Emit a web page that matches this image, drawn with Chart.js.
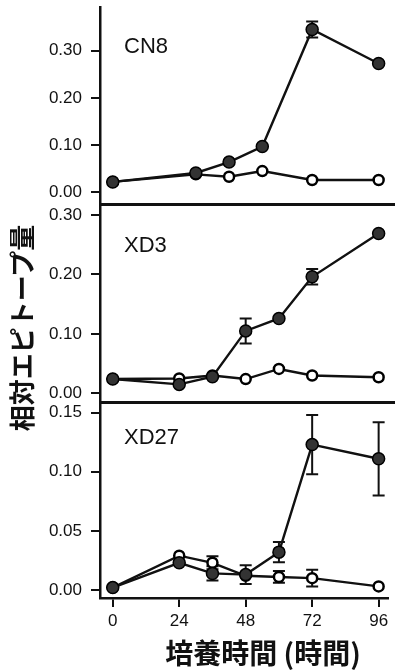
<!DOCTYPE html>
<html>
<head>
<meta charset="utf-8">
<script src="https://cdn.jsdelivr.net/npm/chart.js@4.4.1/dist/chart.umd.min.js"></script>
<style>
  body { margin: 0; background: #fff; width: 395px; height: 670px; overflow: hidden; position: relative; }
  canvas { position: absolute; left: 0; }
  .panel-label { position: absolute; left: 124px; font: 22px "Liberation Sans", Arial, sans-serif; line-height: 1; color: #111; }
  #y-title { position: absolute; left: -133px; top: 313px; width: 300px; height: 30px; line-height: 30px; text-align: center;
    font: bold 26px "Noto Sans CJK JP", sans-serif; color: #111; transform: rotate(-90deg); white-space: nowrap; }
  #x-title { position: absolute; left: 113px; top: 632px; width: 300px; text-align: center; line-height: 1;
    font: bold 28px "Noto Sans CJK JP", sans-serif; color: #111; white-space: nowrap; }
</style>
</head>
<body>
<canvas id="cn8" width="395" height="222" style="top:-5px"></canvas>
<canvas id="xd3" width="395" height="222" style="top:192px"></canvas>
<canvas id="xd27" width="395" height="279" style="top:391px"></canvas>
<div class="panel-label" style="top:35px">CN8</div>
<div class="panel-label" style="top:234px">XD3</div>
<div class="panel-label" style="top:426px">XD27</div>
<div id="y-title">相対エピトープ量</div>
<div id="x-title">培養時間 (時間)</div>
<script>
// culture time (h)
const times = [0, 24, 36, 48, 60, 72, 96];
const cn8Times = [0, 30, 42, 54, 72, 96];
const xTicks = [0, 24, 48, 72, 96];

// CN8
const cn8Filled = [0.022, 0.041, 0.064, 0.097, 0.345, 0.273];
const cn8FilledErr = [0, 0, 0, 0, 0.017, 0];
const cn8Open = [0.022, 0.038, 0.033, 0.045, 0.026, 0.026];
const cn8OpenErr = [0, 0, 0, 0, 0, 0];
const cn8Ticks = [0, 0.1, 0.2, 0.3];

// XD3
const xd3Filled = [0.024, 0.015, 0.028, 0.105, 0.126, 0.196, 0.269];
const xd3FilledErr = [0, 0, 0, 0.021, 0, 0.013, 0];
const xd3Open = [0.024, 0.025, 0.030, 0.024, 0.041, 0.030, 0.027];
const xd3OpenErr = [0, 0, 0, 0, 0, 0, 0];
const xd3Ticks = [0, 0.1, 0.2, 0.3];

// XD27
const xd27Filled = [0.002, 0.023, 0.014, 0.013, 0.032, 0.123, 0.111];
const xd27FilledErr = [0, 0, 0.006, 0.008, 0.0085, 0.025, 0.031];
const xd27Open = [0.002, 0.029, 0.023, 0.012, 0.011, 0.010, 0.003];
const xd27OpenErr = [0, 0, 0.0055, 0, 0.005, 0.007, 0];
const xd27Ticks = [0, 0.05, 0.1, 0.15];

const ink = '#111';
const tickFont = { family: '"Liberation Sans", Arial, sans-serif', size: 17 };

const errorBars = {
  id: 'errorBars',
  beforeDatasetsDraw(chart) {
    const ctx = chart.ctx;
    const y = chart.scales.y;
    ctx.save();
    ctx.strokeStyle = ink;
    ctx.lineWidth = 2;
    chart.data.datasets.forEach((ds, i) => {
      const meta = chart.getDatasetMeta(i);
      meta.data.forEach((pt, j) => {
        const e = ds.errors[j];
        if (!e) return;
        const v = ds.data[j].y;
        const top = y.getPixelForValue(v + e);
        const bot = y.getPixelForValue(v - e);
        ctx.beginPath();
        ctx.moveTo(pt.x, top); ctx.lineTo(pt.x, bot);
        ctx.moveTo(pt.x - 6, top); ctx.lineTo(pt.x + 6, top);
        ctx.moveTo(pt.x - 6, bot); ctx.lineTo(pt.x + 6, bot);
        ctx.stroke();
      });
    });
    ctx.restore();
  }
};

const frame = {
  id: 'frame',
  afterDraw(chart, args, opts) {
    const a = chart.chartArea;
    const ctx = chart.ctx;
    ctx.save();
    ctx.strokeStyle = ink;
    ctx.lineWidth = 2;
    ctx.beginPath();
    if (opts.top) { ctx.moveTo(a.left, a.top); ctx.lineTo(chart.width, a.top); }
    if (opts.bottom) { ctx.moveTo(a.left, a.bottom); ctx.lineTo(chart.width, a.bottom); }
    ctx.stroke();
    ctx.restore();
  }
};

function makePanel(id, t, filled, filledErr, open, openErr, yMin, yMax, yTicks, showX, frameOpts, padBottom) {
  return new Chart(document.getElementById(id), {
    type: 'line',
    data: {
      datasets: [{
        data: t.map((x, i) => ({ x: x, y: filled[i] })),
        errors: filledErr,
        borderColor: ink,
        borderWidth: 2.4,
        pointRadius: 6,
        pointBorderWidth: 1.5,
        pointBackgroundColor: '#333',
        pointBorderColor: '#000'
      }, {
        data: t.map((x, i) => ({ x: x, y: open[i] })),
        errors: openErr,
        borderColor: ink,
        borderWidth: 2.4,
        pointRadius: 5,
        pointBorderWidth: 2.5,
        pointBackgroundColor: '#fff',
        pointBorderColor: '#000'
      }]
    },
    plugins: [errorBars, frame],
    options: {
      responsive: false,
      animation: false,
      devicePixelRatio: 1,
      layout: { padding: { top: 12, bottom: padBottom, left: 0, right: 0 } },
      plugins: { legend: { display: false }, tooltip: { enabled: false }, frame: frameOpts },
      scales: {
        x: {
          type: 'linear',
          min: -4.6,
          max: 99.2,
          display: showX,
          afterBuildTicks: s => { s.ticks = xTicks.map(v => ({ value: v })); },
          afterFit: s => { if (showX) { s.height = 72; s.paddingLeft = 0; s.paddingRight = 0; } },
          grid: { drawOnChartArea: false, drawTicks: true, tickLength: 9, color: ink, lineWidth: 2 },
          border: { display: true, color: ink, width: 2.5 },
          ticks: { color: ink, font: tickFont, padding: 4, maxRotation: 0 }
        },
        y: {
          min: yMin,
          max: yMax,
          afterBuildTicks: s => { s.ticks = yTicks.map(v => ({ value: v })); },
          afterFit: s => { s.width = 100; s.paddingTop = 0; s.paddingBottom = 0; },
          grid: { drawOnChartArea: false, drawTicks: true, tickLength: 9, color: ink, lineWidth: 2 },
          border: { display: true, color: ink, width: 2.5 },
          ticks: { color: ink, font: tickFont, padding: 9, callback: v => v.toFixed(2) }
        }
      }
    }
  });
}

makePanel('cn8', cn8Times, cn8Filled, cn8FilledErr, cn8Open, cn8OpenErr, -0.0269, 0.3926, cn8Ticks, false, { top: false, bottom: true }, 12);
makePanel('xd3', times, xd3Filled, xd3FilledErr, xd3Open, xd3OpenErr, -0.0146, 0.3185, xd3Ticks, false, { top: true, bottom: true }, 12);
makePanel('xd27', times, xd27Filled, xd27FilledErr, xd27Open, xd27OpenErr, -0.0068, 0.1582, xd27Ticks, true, { top: true, bottom: false }, 0);
</script>
</body>
</html>
